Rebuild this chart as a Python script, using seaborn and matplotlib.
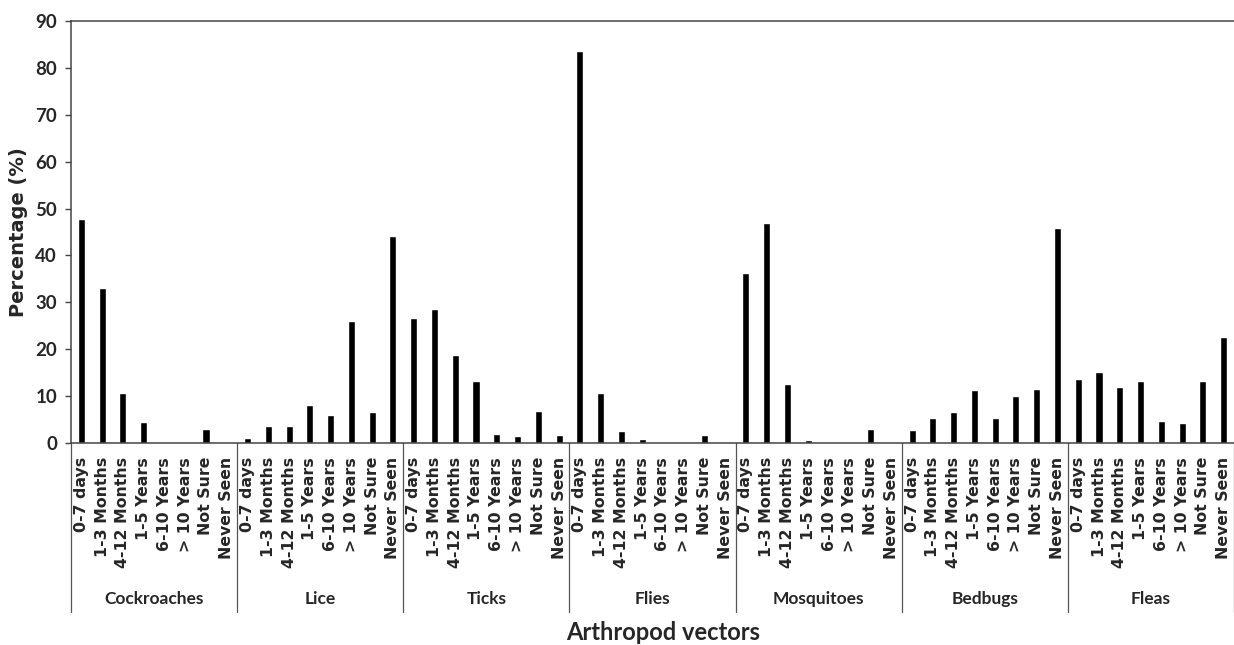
import numpy as np
import pandas as pd
import matplotlib
matplotlib.use("Agg")
import matplotlib.pyplot as plt
import seaborn as sns

vectors = ["Cockroaches", "Lice", "Ticks", "Flies", "Mosquitoes", "Bedbugs", "Fleas"]
periods = ["0-7 days", "1-3 Months", "4-12 Months", "1-5 Years",
           "6-10 Years", "> 10 Years", "Not Sure", "Never Seen"]
cockroaches = [47.8, 33.1, 10.7, 4.4, 0.2, 0.0, 3.0, 0.0]
lice = [1.1, 3.6, 3.6, 8.1, 6.0, 26.0, 6.6, 44.2]
ticks = [26.7, 28.6, 18.8, 13.3, 2.0, 1.5, 6.8, 1.6]
flies = [83.5, 10.7, 2.6, 0.9, 0.0, 0.0, 1.8, 0.0]
mosquitoes = [36.2, 47.0, 12.6, 0.7, 0.0, 0.0, 2.9, 0.0]
bedbugs = [2.7, 5.4, 6.7, 11.2, 5.4, 10.1, 11.6, 45.9]
fleas = [13.6, 15.2, 11.9, 13.3, 4.6, 4.3, 13.3, 22.6]
yticks = list(range(0, 91, 10))

series = [cockroaches, lice, ticks, flies, mosquitoes, bedbugs, fleas]
rows = []
for v, vals in zip(vectors, series):
    for p, val in zip(periods, vals):
        rows.append({"key": f"{v}|{p}", "vector": v, "period": p, "value": val})
df = pd.DataFrame(rows)
keys = list(df["key"])

sns.set_style("white")
plt.rcParams["font.family"] = ["DejaVu Sans"]

W, H = 1234, 645
fig = plt.figure(figsize=(W / 100, H / 100), dpi=100)
ax_left, ax_right, ax_top, ax_bottom = 71, 1234, 21, 443
ax = fig.add_axes([ax_left / W, (H - ax_bottom) / H,
                   (ax_right - ax_left) / W, (ax_bottom - ax_top) / H])

sns.barplot(data=df, x="key", y="value", order=keys, color="black",
            saturation=1, width=0.34, errorbar=None, ax=ax)

n = len(keys)
ax.set_xlim(-0.5, n - 0.5)
ax.set_ylim(0, 90)
ax.set_yticks(yticks)
ax.set_yticklabels([str(t) for t in yticks], fontsize=13.5, fontweight="bold",
                   family=["Lato", "DejaVu Sans"])

ax.set_xticks(range(n))
ax.set_xticklabels(list(df["period"]), rotation=90, fontsize=11.3,
                   fontweight="bold", va="top", ha="center")
ax.tick_params(axis="x", which="major", length=0, pad=10)
ax.set_xticks(np.arange(0.5, n - 1, 1.0), minor=True)
ax.tick_params(axis="x", which="minor", length=92, width=0.9,
               color="#555555", direction="out")
ax.tick_params(axis="y", which="major", length=4, width=1,
               color="#444444", direction="out", pad=6, left=True)
ax.set_xlabel("")

for side in ["left", "bottom", "top"]:
    ax.spines[side].set_visible(True)
    ax.spines[side].set_color("#444444")
    ax.spines[side].set_linewidth(1.1)
ax.spines["right"].set_visible(False)

trans = ax.get_xaxis_transform()
axh = ax_bottom - ax_top
sep_bottom = -(612 - ax_bottom) / axh
label_y = -(599 - ax_bottom) / axh
for g in range(len(vectors) + 1):
    x = -0.5 + 8 * g
    ax.plot([x, x], [0, sep_bottom], transform=trans, clip_on=False,
            color="#555555", lw=0.9)
for g, v in enumerate(vectors):
    ax.text(8 * g + 3.5, label_y, v, transform=trans, ha="center", va="center",
            fontsize=12.5, fontweight="bold", family=["Lato", "DejaVu Sans"])

ax.set_ylabel("Percentage (%)", fontsize=14, fontweight="bold", labelpad=5)
fig.text(663 / W, 1 - 632 / H, "Arthropod vectors", ha="center", va="center",
         fontsize=17, fontweight="bold", family=["Lato", "DejaVu Sans"])

fig.savefig("out.png", dpi=100)
